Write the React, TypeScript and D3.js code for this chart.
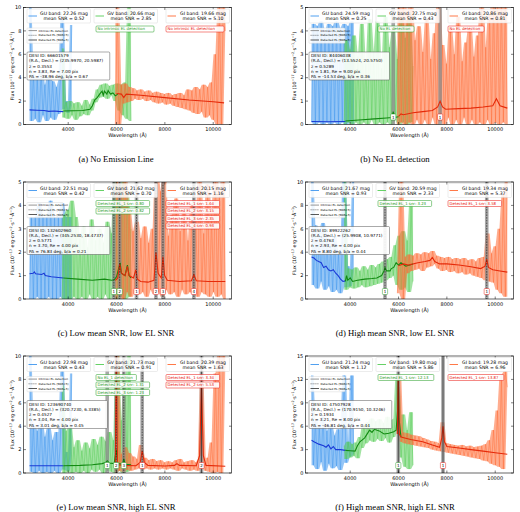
import React from 'react';
import * as d3 from 'd3';

// ---------- layout ----------
const W = 208, H = 117;
const COLS = [23.5, 305.5];
const ROWS = [7.5, 182, 356];
const CAP_X = [116, 395];
const CAP_Y = [162, 336, 510];
const WL_DOMAIN = [2150, 10757];
const WL_TICKS = [4000, 6000, 8000, 10000];
const BAND_RANGE: any = { GU: [2400, 4150], GV: [3750, 6600], GI: [5950, 10500] };
const NOISE_COL: any = { GU: '#3d95ee', GV: '#55cc55', GI: '#ff6a33' };
const FIT_COL: any = { GU: '#1a3ad6', GV: '#128a12', GI: '#e52a0a' };
const NOTE_COL: any = { GV: '#1f9a1f', GI: '#e8100a' };
const FONT = 'DejaVu Sans, sans-serif';

// ---------- panel (a) ----------
const aGU = [10.5,0.3,4.3,0.5,3.9,0.2,4.6,0.8,3.4,0.3,4.1,0.6,3.7,0.4,3.2,0.9,3.8,9.0,1.3,2.0,1.0,1.6,8.5];
const aGV = [6.5,0.6,1.9,0.5,2.0,0.8,1.8,0.4,1.9,0.7,1.6,0.9,2.1,0.8,1.7,1.2,2.2,1.9,3.0,2.3,3.4,2.4,3.5,2.2,3.3,2.5,3.4,2.0,3.5,1.2,3.4,0.8,3.6,0.5,10.5,0.3];
const aGI = [0.0,10.5,0.0,3.4,1.8,3.5,1.9,3.2,2.0,3.1,2.2,2.9,2.1,3.0,2.2,2.8,2.0,2.9,2.1,2.7,1.9,2.8,1.8,2.7,1.9,2.6,1.7,2.7,1.8,2.5,1.6,2.6,1.5,2.7,1.4,2.5,1.3,3.0,1.2,2.9,1.0,3.2,0.9,3.0,1.1,3.4,0.6,3.2,0.8,3.6,0.4,6.0,0.0,10.5,0.0,10.5,8.0];
const aGUfit = [[2400,1.25],[2700,1.22],[3000,1.2],[3200,1.12],[3400,1.15],[3600,1.12],[3800,1.1]];
const aGVfit = [[3800,1.15],[4200,1.18],[4600,1.2],[4900,1.3],[5000,1.6],[5100,2.1],[5200,2.3],[5300,2.6],[5400,2.85],[5450,2.5],[5500,2.85],[5600,2.6],[5650,2.9],[5750,2.6],[5850,2.7],[5950,2.45],[6050,2.6]];
const aGIfit = [[6000,2.65],[6200,2.6],[6300,2.3],[6400,2.6],[7000,2.5],[8000,2.3],[9000,2.1],[10000,1.95],[10450,1.85]];
const aMags = [['22.26','0.52'],['20.66','2.85'],['19.66','5.10']];
const aInfo = ['DESI ID: 66601579','(R.A., Decl.) = (235.9970, 20.5987)','z = 0.3553','n = 3.83, Re = 7.00 pix','PA = -38.96 deg, b/a = 0.67'];
const aNotesGV = ['No intrinsic EL detection'];
const aNotesGI = ['No intrinsic EL detection'];
const aELs: any[] = [];

// ---------- panel (b) ----------
const bGU = [0.1,4.3,0.0,4.2,0.1,4.4,0.0,3.9,0.1,4.3,0.0,4.2,0.1,4.4,0.0,4.1,0.1,4.3,0.0,4.2,0.1,4.4,0.0];
const bGV = [0.0,3.6,0.1,3.2,0.0,3.8,0.1,2.9,0.0,4.3,0.1,2.6,0.0,4.5,0.2,3.1,0.0,4.4,0.1,2.4,0.0,4.6,0.1,3.3,0.0,4.0,0.2,2.8,0.0,4.5,0.1,3.7,0.0,4.6,0.1,2.5];
const bGI = [0.0,5.5,0.1,5.5,0.0,4.8,0.1,5.5,0.0,3.6,0.2,4.2,0.0,3.1,0.2,4.5,0.0,2.8,0.3,3.9,0.0,5.5,0.2,3.4,0.0,2.6,0.3,4.1,0.0,3.0,0.2,4.6,0.0,2.7,0.3,3.5,0.0,4.2,0.2,2.9,0.0,3.8,0.1,5.5,0.0,3.3,0.2,4.7,0.0,5.5,0.1,5.5,0.0,5.5,0.1,5.5,0.0];
const bGUfit = [[2400,0.13],[3100,0.12],[3800,0.13]];
const bGVfit = [[3800,0.15],[4500,0.2],[5000,0.24],[5500,0.28],[5720,0.3],[5780,0.55],[5840,0.3],[6000,0.33]];
const bGIfit = [[6000,0.35],[6100,0.45],[6200,0.42],[6600,0.5],[7000,0.55],[7400,0.6],[7620,0.75],[7720,1.0],[7820,0.75],[7950,0.65],[8500,0.68],[9000,0.7],[9500,0.75],[9900,0.8],[10050,1.1],[10200,0.8],[10500,0.7]];
const bMags = [['24.59','0.25'],['22.75','0.43'],['20.86','0.81']];
const bInfo = ['DESI ID: 84406038','(R.A., Decl.) = (13.5524, 20.5750)','z = 0.5289','n = 1.81, Re = 9.00 pix','PA = -14.53 deg, b/a = 0.36'];
const bNotesGV = ['No EL detection'];
const bNotesGI = ['No EL detection'];
const bELs = [{ wl: 5780, band: 'GV', n: 1, snr: null }, { wl: 7720, band: 'GI', n: 1, snr: null }];

// ---------- panel (c) ----------
const cGU = [0.0,3.5,0.0,3.5,0.1,4.1,0.0,3.5,0.0,3.5,0.1,4.2,0.0,3.5,0.0,3.5,0.1,4.1,0.0,3.5,0.0,3.5,0.0];
const cGV = [0.0,3.6,0.0,3.8,0.0,4.2,0.1,3.5,0.0,2.6,0.1,3.1,0.0,2.2,0.2,3.4,0.0,2.5,0.1,3.0,0.0,2.4,0.2,3.3,0.0,2.8,0.1,5.5,0.0,3.9,0.1,5.5,0.0,4.6,0.1,3.0];
const cGI = [0.0,5.5,0.2,4.4,0.0,5.5,0.3,3.8,0.1,2.9,0.4,3.3,0.2,2.6,0.3,3.1,0.1,2.4,0.4,3.0,0.2,5.5,0.3,4.6,0.1,5.5,0.4,2.7,0.2,3.6,0.3,4.3,0.1,2.9,0.4,3.8,0.2,2.5,0.3,4.1,0.2,3.4,0.1,5.5,0.3,2.8,0.2,4.9,0.1,3.6,0.3,5.5,0.1,4.4,0.2,5.5,0.0];
const cGUfit = [[2400,1.08],[2550,1.1],[2600,1.16],[2650,1.08],[2900,1.05],[3000,1.1],[3050,1.0],[3300,0.95],[3600,0.92],[3800,0.9]];
const cGVfit = [[3800,0.9],[4400,0.85],[5000,0.8],[5500,0.85],[5800,0.8],[5900,0.82],[6000,0.95],[6100,1.35],[6150,1.55],[6200,1.1],[6350,1.0],[6450,1.45],[6520,1.0],[6600,0.9]];
const cGIfit = [[5950,0.8],[6050,0.9],[6130,1.5],[6200,1.1],[6350,1.0],[6450,1.4],[6520,1.0],[6700,0.9],[6800,1.25],[6860,0.85],[7000,0.75],[7300,0.72],[7550,0.8],[7630,2.0],[7720,1.1],[7850,0.9],[7920,1.8],[7990,1.0],[8100,0.8],[8600,0.75],[9100,0.78],[9200,1.05],[9300,0.78],[9800,0.75],[10500,0.75]];
const cMags = [['22.51','0.42'],['21.62','0.70'],['20.15','1.16']];
const cInfo = ['DESI ID: 132602960','(R.A., Decl.) = (345.2530, 18.4737)','z = 0.5771','n = 3.70, Re = 4.00 pix','PA = 76.83 deg, b/a = 0.21'];
const cNotesGV = ['Detected EL_1 snr: 0.80','Detected EL_2 snr: 0.82'];
const cNotesGI = ['Detected EL_1 snr: 1.64','Detected EL_2 snr: 3.15','Detected EL_3 snr: 2.35','Detected EL_4 snr: 0.93'];
const cELs = [
  { wl: 5890, band: 'GV', n: 1, snr: 0.80 }, { wl: 6130, band: 'GV', n: 2, snr: 0.82 },
  { wl: 6826, band: 'GI', n: 1, snr: 1.64 }, { wl: 7630, band: 'GI', n: 2, snr: 3.15 },
  { wl: 7920, band: 'GI', n: 3, snr: 2.35 }, { wl: 9200, band: 'GI', n: 4, snr: 0.93 },
];

// ---------- panel (d) ----------
const dGU = [10.5,1.2,6.3,0.9,5.8,1.5,6.5,0.8,5.2,1.1,4.7,0.6,5.4,0.8,3.9,0.5,4.3,10.5,1.0,2.8,1.1,2.3,10.5];
const dGV = [10.5,0.8,2.6,1.0,2.5,0.9,2.7,1.0,2.4,1.2,2.8,1.0,2.5,1.1,2.9,1.2,2.7,1.3,3.0,1.4,3.2,1.6,3.4,1.8,3.6,2.0,4.6,1.2,5.4,0.8,5.8,1.0,5.0,0.6,8.2,1.5];
const dGI = [0.5,3.5,10.5,0.0,3.6,2.2,3.8,2.4,3.7,2.5,3.9,2.6,3.8,2.4,4.0,2.7,3.9,2.8,4.1,3.0,3.7,2.6,3.6,2.4,3.5,2.5,3.6,2.3,3.4,2.4,3.5,2.2,3.4,2.3,3.5,2.1,3.3,2.2,3.4,2.0,3.2,1.9,3.5,1.8,3.6,1.6,5.6,1.5,3.9,1.4,4.5,0.8,6.0,0.5,9.0,0.2,10.5];
const dGUfit = [[2400,3.6],[2500,3.5],[2600,3.3],[2800,3.1],[2900,2.7],[3000,2.8],[3100,2.5],[3200,2.4],[3300,2.5],[3400,2.2],[3500,2.0],[3600,1.7],[3700,1.5],[3800,1.55]];
const dGVfit = [[3800,1.5],[3850,2.0],[3900,1.6],[4000,1.8],[4100,1.5],[4300,1.6],[4600,1.7],[4900,1.75],[5100,1.8],[5300,2.0],[5400,2.4],[5440,2.7],[5500,2.4],[5650,2.4],[5700,2.6],[5800,2.7],[5900,3.1],[6000,2.9],[6100,3.1],[6300,2.8],[6600,3.0]];
const dGIfit = [[6000,2.85],[6200,3.0],[6400,2.9],[6800,3.1],[7100,3.2],[7300,3.3],[7400,3.55],[7500,3.2],[7700,3.0],[8000,3.0],[8500,2.9],[9000,2.75],[9400,2.6],[9580,2.8],[9650,3.4],[9720,2.7],[9900,2.5],[10200,2.4],[10500,2.3]];
const dMags = [['21.67','0.93'],['20.59','2.33'],['19.34','5.37']];
const dInfo = ['DESI ID: 89922262','(R.A., Decl.) = (25.9908, 10.9771)','z = 0.4763','n = 2.93, Re = 4.00 pix','PA = 8.80 deg, b/a = 0.44'];
const dNotesGV = ['Detected EL_1 snr: 3.23'];
const dNotesGI = ['Detected EL_1 snr: 3.58'];
const dELs = [{ wl: 5440, band: 'GV', n: 1, snr: 3.23 }, { wl: 9650, band: 'GI', n: 1, snr: 3.58 }];

// ---------- panel (e) ----------
const eGU = [10.5,0.1,4.2,0.0,3.6,0.2,4.5,0.0,3.1,0.1,3.9,0.0,2.8,0.2,3.5,0.0,2.6,8.7,0.3,1.8,0.2,1.5,8.5];
const eGV = [7.5,0.0,3.6,0.1,4.0,0.0,2.2,0.1,2.8,0.0,1.9,0.2,2.6,0.0,2.1,0.3,2.9,0.1,2.4,0.3,3.1,0.0,2.7,0.2,3.5,0.1,2.8,0.0,10.5,0.2,4.5,0.0,7.8,0.1,10.5,0.3];
const eGI = [0.0,10.5,0.2,1.6,0.1,2.2,0.3,1.7,0.2,1.4,0.3,1.2,0.4,2.4,0.3,1.3,0.4,1.1,0.3,1.2,0.4,1.0,0.3,1.1,0.4,0.9,0.3,1.0,0.4,0.9,0.3,1.1,0.2,1.2,0.4,0.9,0.3,1.0,0.2,1.1,0.3,0.9,0.2,1.2,7.8,1.0,0.2,1.3,0.1,2.6,0.0,8.5,0.1,10.5,0.0,10.5,9.0];
const eGUfit = [[2400,0.62],[3000,0.62],[3800,0.62]];
const eGVfit = [[3800,0.62],[4500,0.65],[5000,0.7],[5400,0.8],[5550,0.9],[5620,1.05],[5700,0.85],[5900,0.8],[5990,2.0],[6050,0.8],[6250,0.75],[6300,1.2],[6360,0.75],[6600,0.7]];
const eGIfit = [[5950,0.65],[5990,10.5],[6040,0.7],[6300,0.65],[6800,0.62],[6980,0.9],[7060,1.9],[7150,0.9],[7300,0.65],[8000,0.6],[8400,0.65],[8500,0.8],[8600,0.65],[9300,0.62],[9440,1.5],[9515,7.6],[9590,1.5],[9700,0.65],[10500,0.58]];
const eMags = [['22.98','0.43'],['21.73','0.91'],['20.39','1.63']];
const eInfo = ['DESI ID: 123690740','(R.A., Decl.) = (320.7230, 6.3385)','z = 0.4527','n = 3.04, Re = 4.00 pix','PA = 3.01 deg, b/a = 0.45'];
const eNotesGV = ['No EL_1 detection','Detected EL_2 snr: 1.31','Detected EL_3 snr: 1.23'];
const eNotesGI = ['Detected EL_1 snr: 3.34','Detected EL_2 snr: 5.53'];
const eELs = [
  { wl: 5614, band: 'GV', n: 1, snr: null }, { wl: 5986, band: 'GV', n: 2, snr: 1.31 },
  { wl: 6300, band: 'GV', n: 3, snr: 1.23 }, { wl: 7062, band: 'GI', n: 1, snr: 3.34 },
  { wl: 9515, band: 'GI', n: 2, snr: 5.53 },
];

// ---------- panel (f) ----------
const fGU = [12.5,1.0,6.8,0.5,5.9,1.4,7.2,0.3,5.4,1.2,6.1,0.6,4.8,0.9,5.6,0.4,4.5,12.5,1.3,4.0,2.1,12.5,2.4];
const fGV = [3.5,1.8,4.0,2.0,3.7,2.2,3.9,1.9,4.6,3.2,6.2,3.8,6.5,4.2,7.0,4.0,6.6,4.4,6.9,4.1,6.4,4.5,7.2,3.9,6.8,4.6,7.0,12.5,5.6,2.0,7.5,0.8,5.5,0.5,7.8,1.0];
const fGI = [5.0,12.5,4.0,5.2,3.8,5.1,3.7,4.9,3.6,4.8,3.5,4.7,3.4,4.5,3.3,4.3,3.2,4.1,3.0,4.0,2.9,3.8,2.8,6.5,2.7,3.8,2.6,3.7,2.5,3.6,2.4,3.5,2.3,3.6,2.2,3.4,2.1,3.5,2.0,3.3,1.9,3.4,1.8,3.5,1.6,3.7,1.5,4.2,1.2,5.5,1.0,8.0,0.8,12.5,0.5,13.0,11.0];
const fGUfit = [[2400,4.2],[2500,4.0],[2700,3.7],[2900,3.5],[3000,3.3],[3100,3.6],[3200,3.1],[3300,3.4],[3400,3.0],[3600,3.0],[3800,2.9]];
const fGVfit = [[3800,2.9],[4000,2.85],[4200,2.8],[4300,3.5],[4400,4.0],[4600,4.5],[4800,5.5],[4900,5.2],[5000,5.6],[5200,5.4],[5400,5.0],[5600,5.1],[5800,5.3],[5900,5.5],[5960,8.0],[5990,12.5],[6020,7.0],[6100,4.6]];
const fGIfit = [[5950,5.0],[5990,12.5],[6030,5.0],[6100,4.6],[6500,4.3],[7000,4.0],[7400,3.6],[7700,3.3],[7790,4.5],[7840,6.0],[7900,4.0],[8000,3.4],[8500,3.2],[9000,3.0],[9500,2.8],[10000,2.6],[10500,2.4]];
const fMags = [['21.24','1.12'],['19.80','5.86'],['19.28','6.96']];
const fInfo = ['DESI ID: 47507928','(R.A., Decl.) = (170.9150, 10.3246)','z = 0.1934','n = 3.21, Re = 8.00 pix','PA = -46.81 deg, b/a = 0.44'];
const fNotesGV = ['Detected EL_1 snr: 12.13'];
const fNotesGI = ['Detected EL_1 snr: 13.87'];
const fELs = [{ wl: 5990, band: 'GV', n: 1, snr: 12.13 }, { wl: 7840, band: 'GI', n: 1, snr: 13.87 }];

const PANELS = [
  { key: 'a', caption: '(a) No Emission Line', ymax: 10, ystep: 2, noise: { GU: aGU, GV: aGV, GI: aGI }, fit: { GU: aGUfit, GV: aGVfit, GI: aGIfit }, mags: aMags, info: aInfo, notes: { GV: aNotesGV, GI: aNotesGI }, els: aELs },
  { key: 'b', caption: '(b) No EL detection', ymax: 5, ystep: 1, noise: { GU: bGU, GV: bGV, GI: bGI }, fit: { GU: bGUfit, GV: bGVfit, GI: bGIfit }, mags: bMags, info: bInfo, notes: { GV: bNotesGV, GI: bNotesGI }, els: bELs },
  { key: 'c', caption: '(c) Low mean SNR, low EL SNR', ymax: 5, ystep: 1, noise: { GU: cGU, GV: cGV, GI: cGI }, fit: { GU: cGUfit, GV: cGVfit, GI: cGIfit }, mags: cMags, info: cInfo, notes: { GV: cNotesGV, GI: cNotesGI }, els: cELs },
  { key: 'd', caption: '(d) High mean SNR, low EL SNR', ymax: 10, ystep: 2, noise: { GU: dGU, GV: dGV, GI: dGI }, fit: { GU: dGUfit, GV: dGVfit, GI: dGIfit }, mags: dMags, info: dInfo, notes: { GV: dNotesGV, GI: dNotesGI }, els: dELs },
  { key: 'e', caption: '(e) Low mean SNR, high EL SNR', ymax: 10, ystep: 2, noise: { GU: eGU, GV: eGV, GI: eGI }, fit: { GU: eGUfit, GV: eGVfit, GI: eGIfit }, mags: eMags, info: eInfo, notes: { GV: eNotesGV, GI: eNotesGI }, els: eELs },
  { key: 'f', caption: '(f) High mean SNR, high EL SNR', ymax: 15, ystep: 3, noise: { GU: fGU, GV: fGV, GI: fGI }, fit: { GU: fGUfit, GV: fGVfit, GI: fGIfit }, mags: fMags, info: fInfo, notes: { GV: fNotesGV, GI: fNotesGI }, els: fELs },
];

const BANDS = ['GU', 'GV', 'GI'];
const LEG_X = [3.5, 70.5, 142.5];

function Panel({ p, idx }: any) {
  const col = idx % 2, row = Math.floor(idx / 2);
  const x0 = COLS[col], y0 = ROWS[row];
  const x = d3.scaleLinear().domain(WL_DOMAIN).range([0, W]);
  const y = d3.scaleLinear().domain([0, p.ymax]).range([H, 0]);
  const yticks = d3.range(0, p.ymax + 0.001, p.ystep);
  const wlAt = (band: string, i: number, n: number) => {
    const [s, e] = BAND_RANGE[band];
    return s + ((e - s) * i) / (n - 1);
  };
  const noisePath = (band: string, vals: number[]) =>
    d3.line<number>().x((_, i) => x(wlAt(band, i, vals.length))).y((v) => y(v))(vals) || '';
  const envPath = (band: string, vals: number[]) => {
    const n = vals.length;
    const lo = (i: number) => Math.min(vals[Math.max(0, i - 1)], vals[i], vals[Math.min(n - 1, i + 1)]);
    const hi = (i: number) => Math.max(vals[Math.max(0, i - 1)], vals[i], vals[Math.min(n - 1, i + 1)]);
    return d3.area<number>()
      .x((_, i) => x(wlAt(band, i, n)))
      .y0((_, i) => y(lo(i)))
      .y1((_, i) => y(hi(i)))(vals) || '';
  };
  const fitPath = d3.line<number[]>().x((d) => x(d[0])).y((d) => y(d[1]));
  const clipId = `clip-${p.key}`;
  const infoLen = Math.max(...p.info.map((s: string) => s.length));
  const infoW = infoLen * 2.25 + 4;
  return (
    <g transform={`translate(${x0},${y0})`} fontFamily={FONT}>
      <defs>
        <clipPath id={clipId}><rect x={0} y={0} width={W} height={H} /></clipPath>
      </defs>
      <rect x={0} y={0} width={W} height={H} fill="#fff" />
      <g clipPath={`url(#${clipId})`}>
        {BANDS.map((b) => (
          <g key={b}>
            <path d={envPath(b, p.noise[b])} fill={NOISE_COL[b]} fillOpacity={0.55} stroke="none" />
            <path d={noisePath(b, p.noise[b])} fill="none" stroke={NOISE_COL[b]} strokeWidth={0.7} strokeOpacity={0.65} />
          </g>
        ))}
        {p.els.map((el: any, i: number) => (
          <line key={'g' + i} x1={x(el.wl)} x2={x(el.wl)} y1={0} y2={H} stroke="#8a8a8a" strokeOpacity={0.75} strokeWidth={3.6} />
        ))}
        {BANDS.map((b) => (
          <path key={'f' + b} d={fitPath(p.fit[b]) || ''} fill="none" stroke={FIT_COL[b]} strokeWidth={1.1} />
        ))}
        {p.els.filter((el: any) => el.snr !== null).map((el: any, i: number) => (
          <line key={'d' + i} x1={x(el.wl)} x2={x(el.wl)} y1={0} y2={H} stroke="#111" strokeWidth={0.6} strokeDasharray={el.snr < 5 ? '1.6,1.1' : undefined} />
        ))}
      </g>
      <rect x={0} y={0} width={W} height={H} fill="none" stroke="#000" strokeWidth={0.6} />
      {WL_TICKS.map((t) => (
        <g key={'xt' + t}>
          <line x1={x(t)} x2={x(t)} y1={H} y2={H - 2.5} stroke="#000" strokeWidth={0.5} />
          <line x1={x(t)} x2={x(t)} y1={0} y2={2.5} stroke="#000" strokeWidth={0.5} />
          <text x={x(t)} y={H + 6.8} fontSize={5} textAnchor="middle">{t}</text>
        </g>
      ))}
      {yticks.map((t) => (
        <g key={'yt' + t}>
          <line x1={0} x2={2.5} y1={y(t)} y2={y(t)} stroke="#000" strokeWidth={0.5} />
          <line x1={W} x2={W - 2.5} y1={y(t)} y2={y(t)} stroke="#000" strokeWidth={0.5} />
          <text x={-2.2} y={y(t)} dy="0.35em" fontSize={5} textAnchor="end">{t}</text>
        </g>
      ))}
      <text x={W / 2} y={H + 12.8} fontSize={5} textAnchor="middle">Wavelength (Å)</text>
      <text transform={`translate(${-9.8},${H / 2}) rotate(-90)`} fontSize={4.7} textAnchor="middle">
        Flux (10<tspan dy={-1.6} fontSize={3.3}>−17</tspan><tspan dy={1.6}> erg·cm</tspan><tspan dy={-1.6} fontSize={3.3}>−2</tspan><tspan dy={1.6}>·s</tspan><tspan dy={-1.6} fontSize={3.3}>−1</tspan><tspan dy={1.6}>·Å</tspan><tspan dy={-1.6} fontSize={3.3}>−1</tspan><tspan dy={1.6}>)</tspan>
      </text>
      {BANDS.map((b, i) => (
        <g key={'lg' + b} transform={`translate(${LEG_X[i]},1.5)`}>
          <rect x={0} y={0} width={63.5} height={14} rx={1} fill="#fff" fillOpacity={0.85} stroke="#cfcfcf" strokeWidth={0.4} />
          <line x1={1.5} x2={10} y1={7} y2={7} stroke={NOISE_COL[b]} strokeWidth={0.9} />
          <text x={37} y={6.1} fontSize={4.6} textAnchor="middle">{`${b} band: ${p.mags[i][0]} mag`}</text>
          <text x={37} y={11.4} fontSize={4.6} textAnchor="middle">{`mean SNR = ${p.mags[i][1]}`}</text>
        </g>
      ))}
      <g transform="translate(3.5,20.5)">
        <rect x={0} y={0} width={36} height={15.3} rx={0.8} fill="#fff" fillOpacity={0.85} stroke="#cfcfcf" strokeWidth={0.4} />
        <line x1={1.5} x2={10} y1={2.6} y2={2.6} stroke="#8a8a8a" strokeWidth={0.9} />
        <line x1={1.5} x2={10} y1={7.3} y2={7.3} stroke="#111" strokeWidth={0.5} strokeDasharray="1.2,0.8" />
        <line x1={1.5} x2={10} y1={12} y2={12} stroke="#111" strokeWidth={0.7} />
        <text x={11.5} y={3.6} fontSize={2.8}>Intrinsic EL detection</text>
        <text x={11.5} y={8.3} fontSize={2.8}>Detected EL (SNR{'<'}5)</text>
        <text x={11.5} y={13} fontSize={2.8}>Detected EL (SNR≥5)</text>
      </g>
      <g transform="translate(3.5,44.5)">
        <rect x={0} y={0} width={infoW} height={28} rx={1} fill="#fff" fillOpacity={0.9} stroke="#555" strokeWidth={0.5} />
        {p.info.map((s: string, i: number) => (
          <text key={'in' + i} x={2} y={5 + i * 5.3} fontSize={4.2}>{s}</text>
        ))}
      </g>
      {['GV', 'GI'].map((b, bi) => (
        <g key={'nt' + b}>
          {p.notes[b].map((s: string, i: number) => (
            <g key={'n' + i} transform={`translate(${bi === 0 ? 72.5 : 142.5},${18.5 + i * 7.5})`}>
              <rect x={0} y={0} width={s.length * 2.2 + 3} height={6} rx={1} fill="#fff" fillOpacity={0.9} stroke={NOTE_COL[b]} strokeWidth={0.5} />
              <text x={1.5} y={4.4} fontSize={3.9} fill={NOTE_COL[b]}>{s}</text>
            </g>
          ))}
        </g>
      ))}
      {p.els.map((el: any, i: number) => (
        <g key={'nb' + i} transform={`translate(${x(el.wl)},${H - 7.5})`}>
          <rect x={-2.6} y={-3} width={5.2} height={6} rx={0.8} fill="#fff" stroke={NOTE_COL[el.band]} strokeWidth={0.45} />
          <text x={0} y={1.5} fontSize={4} textAnchor="middle">{el.n}</text>
        </g>
      ))}
    </g>
  );
}

export default function App() {
  return (
    <svg width={520} height={512} style={{ position: 'absolute', left: 0, top: 0, background: '#fff' }}>
      <rect x={0} y={0} width={520} height={512} fill="#fff" />
      {PANELS.map((p, i) => (
        <g key={p.key}>
          <Panel p={p} idx={i} />
          <text x={CAP_X[i % 2]} y={CAP_Y[Math.floor(i / 2)]} fontFamily="Liberation Serif, serif" fontSize={8.7} textAnchor="middle">{p.caption}</text>
        </g>
      ))}
    </svg>
  );
}
